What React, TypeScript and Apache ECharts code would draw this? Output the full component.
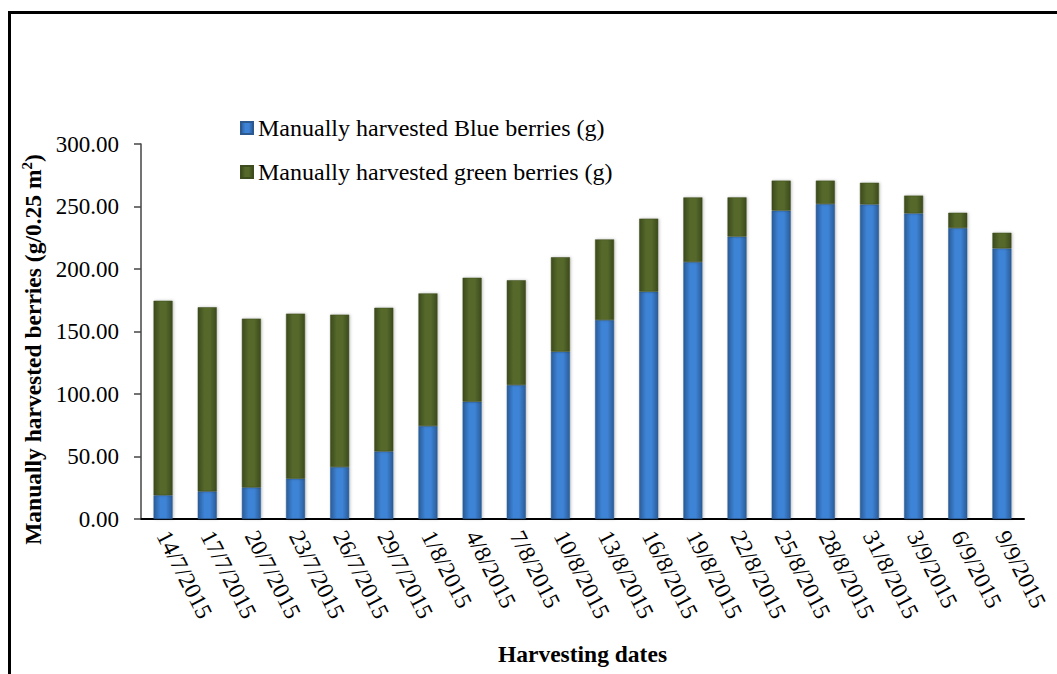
import React, { useEffect, useRef } from "react";
import * as echarts from "echarts";

const categories = [
  "14/7/2015", "17/7/2015", "20/7/2015", "23/7/2015", "26/7/2015", "29/7/2015",
  "1/8/2015", "4/8/2015", "7/8/2015", "10/8/2015", "13/8/2015", "16/8/2015",
  "19/8/2015", "22/8/2015", "25/8/2015", "28/8/2015", "31/8/2015", "3/9/2015",
  "6/9/2015", "9/9/2015",
];

const blueBerries = [
  19.0, 22.1, 25.3, 32.3, 41.6, 54.1, 74.4, 93.8, 107.2, 133.9,
  159.2, 181.9, 205.6, 225.9, 246.7, 252.0, 251.7, 244.5, 232.8, 216.5,
];

const greenBerries = [
  155.6, 147.3, 135.0, 132.0, 121.9, 114.9, 106.1, 99.2, 83.8, 75.5,
  64.5, 58.4, 51.7, 31.4, 24.0, 18.7, 17.3, 14.2, 12.2, 12.5,
];

const yTicks = [0, 50, 100, 150, 200, 250, 300];

const FONT = "Liberation Serif";

export default function App() {
  const ref = useRef<HTMLDivElement>(null);

  useEffect(() => {
    if (!ref.current) return;
    const chart = echarts.init(ref.current, null, { renderer: "svg" });

    const grad = (edge: string, mid: string) =>
      new echarts.graphic.LinearGradient(0, 0, 1, 0, [
        { offset: 0, color: edge },
        { offset: 0.35, color: mid },
        { offset: 0.65, color: mid },
        { offset: 1, color: edge },
      ]);

    chart.setOption({
      animation: false,
      backgroundColor: "#ffffff",
      textStyle: { fontFamily: FONT },
      graphic: [
        { type: "rect", shape: { x: 8, y: 11, width: 1049, height: 3 }, style: { fill: "#000" }, z: 100 },
        { type: "rect", shape: { x: 8, y: 11, width: 3, height: 663 }, style: { fill: "#000" }, z: 100 },
      ],
      legend: {
        orient: "vertical",
        left: 235,
        top: 111,
        itemWidth: 12,
        itemHeight: 12,
        itemGap: 20,
        icon: "rect",
        textStyle: { fontFamily: FONT, fontSize: 24, color: "#000" },
        data: [
          "Manually harvested Blue berries (g)",
          "Manually harvested green berries (g)",
        ],
      },
      grid: { left: 141, right: 33, top: 144, bottom: 155, containLabel: false },
      xAxis: {
        type: "category",
        data: categories,
        name: "Harvesting dates",
        nameLocation: "middle",
        nameGap: 123,
        nameTextStyle: { fontFamily: FONT, fontSize: 23.5, fontWeight: "bold", color: "#000" },
        axisLine: { lineStyle: { color: "#000", width: 2 } },
        axisTick: { alignWithLabel: true, length: 6, lineStyle: { color: "#000", width: 2 } },
        axisLabel: {
          rotate: -63,
          margin: 13,
          fontFamily: FONT,
          fontSize: 23.5,
          color: "#000",
          interval: 0,
        },
      },
      yAxis: {
        type: "value",
        min: 0,
        max: 300,
        interval: 50,
        name: "Manually harvested berries (g/0.25 m{sup|2})",
        nameLocation: "middle",
        nameGap: 94,
        nameRotate: 90,
        nameTextStyle: {
          fontFamily: FONT,
          fontSize: 23.5,
          fontWeight: "bold",
          color: "#000",
          padding: [0, 36, 0, 0],
          rich: { sup: { fontSize: 15, fontWeight: "bold", verticalAlign: "top", padding: [0, 0, 12, 0], fontFamily: FONT, color: "#000" } },
        },
        axisLine: { show: true, lineStyle: { color: "#444", width: 1.5 } },
        axisTick: { show: true, length: 7, lineStyle: { color: "#444", width: 1.5 } },
        splitLine: { show: false },
        axisLabel: {
          margin: 22,
          fontFamily: FONT,
          fontSize: 23,
          color: "#000",
          formatter: (v: number) => (yTicks.includes(v) ? v.toFixed(2) : ""),
        },
      },
      series: [
        {
          name: "Manually harvested Blue berries (g)",
          type: "bar",
          stack: "total",
          barWidth: 19,
          data: blueBerries,
          itemStyle: {
            color: grad("#2A5C98", "#3E83D6"),
            borderColor: "#2C5A8F",
            borderWidth: 0.5,
            shadowColor: "rgba(0,0,0,0.25)",
            shadowBlur: 3,
            shadowOffsetX: 1,
          },
        },
        {
          name: "Manually harvested green berries (g)",
          type: "bar",
          stack: "total",
          barWidth: 19,
          data: greenBerries,
          itemStyle: {
            color: grad("#3B4A1C", "#56692B"),
            borderColor: "#3E4D1E",
            borderWidth: 0.5,
            shadowColor: "rgba(0,0,0,0.25)",
            shadowBlur: 3,
            shadowOffsetX: 1,
          },
        },
      ],
    });

    return () => chart.dispose();
  }, []);

  return (
    <div
      ref={ref}
      style={{ position: "fixed", left: 0, top: 0, width: 1057, height: 674 }}
    />
  );
}
